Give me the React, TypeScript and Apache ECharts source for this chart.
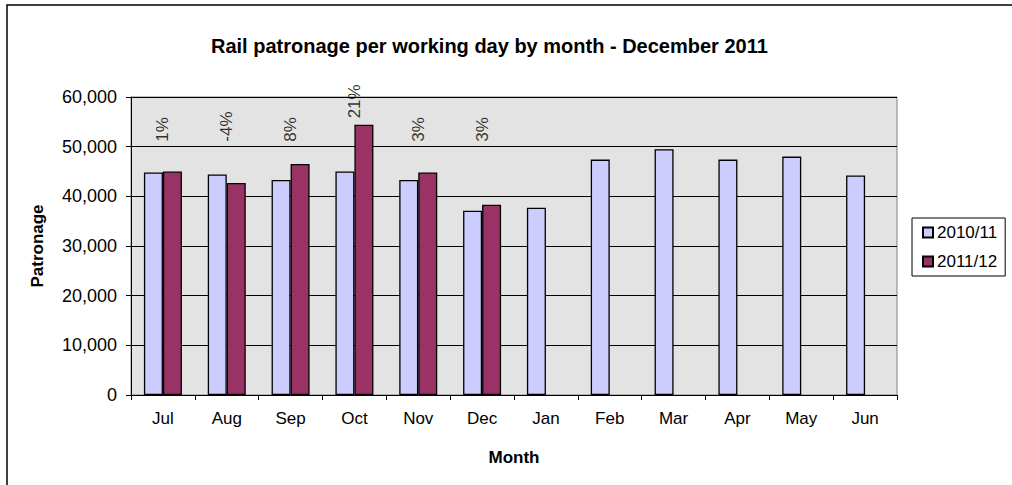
import React, { useEffect, useRef } from "react";
import * as echarts from "echarts";

const months = ["Jul", "Aug", "Sep", "Oct", "Nov", "Dec", "Jan", "Feb", "Mar", "Apr", "May", "Jun"];
const prevYear = [44800, 44400, 43300, 45000, 43300, 37100, 37700, 47400, 49500, 47400, 48000, 44200];
const currYear = [45000, 42700, 46500, 54400, 44800, 38300];
const pctChange = ["1%", "-4%", "8%", "21%", "3%", "3%"];
const yTicks = { min: 0, max: 60000, interval: 10000 };
const seriesNames = ["2010/11", "2011/12"];

const FONT = "'Liberation Sans', Arial, sans-serif";

export default function App() {
  const ref = useRef<HTMLDivElement>(null);
  useEffect(() => {
    if (!ref.current) return;
    const chart = echarts.init(ref.current, undefined, { renderer: "svg" });
    const labelPoints = currYear.map((v, i) => [i, Math.max(51000, v + 1300)]);
    chart.setOption({
      animation: false,
      textStyle: { fontFamily: FONT },
      title: {
        text: "Rail patronage per working day by month - December 2011",
        left: 206,
        top: 31,
        textStyle: { fontSize: 20, fontWeight: "bold", color: "#000", fontFamily: FONT },
      },
      graphic: [
        {
          type: "rect",
          shape: { x: 7, y: 5, width: 1100, height: 600 },
          style: { fill: "none", stroke: "#000", lineWidth: 1.5 },
          silent: true,
        },
      ],
      legend: {
        orient: "vertical",
        left: 912,
        top: 218,
        data: seriesNames,
        icon: "rect",
        itemWidth: 10,
        itemHeight: 10,
        itemGap: 12,
        padding: [6, 8, 6, 10],
        borderColor: "#000",
        borderWidth: 1,
        textStyle: { fontSize: 17, color: "#000", fontFamily: FONT, padding: [0, 0, 0, -1] },
      },
      grid: {
        left: 131,
        right: 115,
        top: 97,
        bottom: 90,
        show: true,
        backgroundColor: "#E3E3E3",
        borderColor: "#808080",
        borderWidth: 1,
      },
      xAxis: {
        type: "category",
        data: months,
        name: "Month",
        nameLocation: "middle",
        nameGap: 54,
        nameTextStyle: { fontSize: 17, fontWeight: "bold", color: "#000", fontFamily: FONT },
        axisLine: { show: true, lineStyle: { color: "#000", width: 1 } },
        axisTick: { show: true, length: 5, lineStyle: { color: "#000" } },
        axisLabel: { fontSize: 17, color: "#000", margin: 15, fontFamily: FONT },
      },
      yAxis: {
        type: "value",
        min: yTicks.min,
        max: yTicks.max,
        interval: yTicks.interval,
        name: "Patronage",
        nameLocation: "middle",
        nameGap: 85,
        nameTextStyle: { fontSize: 17, fontWeight: "bold", color: "#000", fontFamily: FONT },
        axisLine: { show: true, lineStyle: { color: "#000", width: 1 } },
        axisTick: { show: true, length: 5, lineStyle: { color: "#000" } },
        axisLabel: {
          fontSize: 18,
          color: "#000",
          margin: 14,
          fontFamily: FONT,
          formatter: (v: number) => v.toLocaleString("en-US"),
        },
        splitLine: { show: true, lineStyle: { color: "#000", width: 1 } },
      },
      series: [
        {
          name: seriesNames[0],
          type: "bar",
          data: prevYear,
          barWidth: 19,
          barGap: "0%",
          itemStyle: { color: "#CCCCFF", borderColor: "#000", borderWidth: 1.3 },
        },
        {
          name: seriesNames[1],
          type: "bar",
          data: currYear,
          barWidth: 19,
          barGap: "0%",
          itemStyle: { color: "#993366", borderColor: "#000", borderWidth: 1.3 },
        },
        {
          name: "pct",
          type: "scatter",
          data: labelPoints,
          symbolSize: 0,
          itemStyle: { color: "transparent" },
          silent: true,
          label: {
            show: true,
            position: [0, 0],
            rotate: 90,
            align: "left",
            verticalAlign: "middle",
            fontSize: 17,
            color: "#000",
            fontFamily: FONT,
            formatter: (p: any) => pctChange[p.dataIndex],
          },
        },
      ],
    });
    return () => chart.dispose();
  }, []);
  return (
    <div
      ref={ref}
      style={{ position: "absolute", left: 0, top: 0, width: 1012, height: 485, background: "#fff" }}
    />
  );
}
